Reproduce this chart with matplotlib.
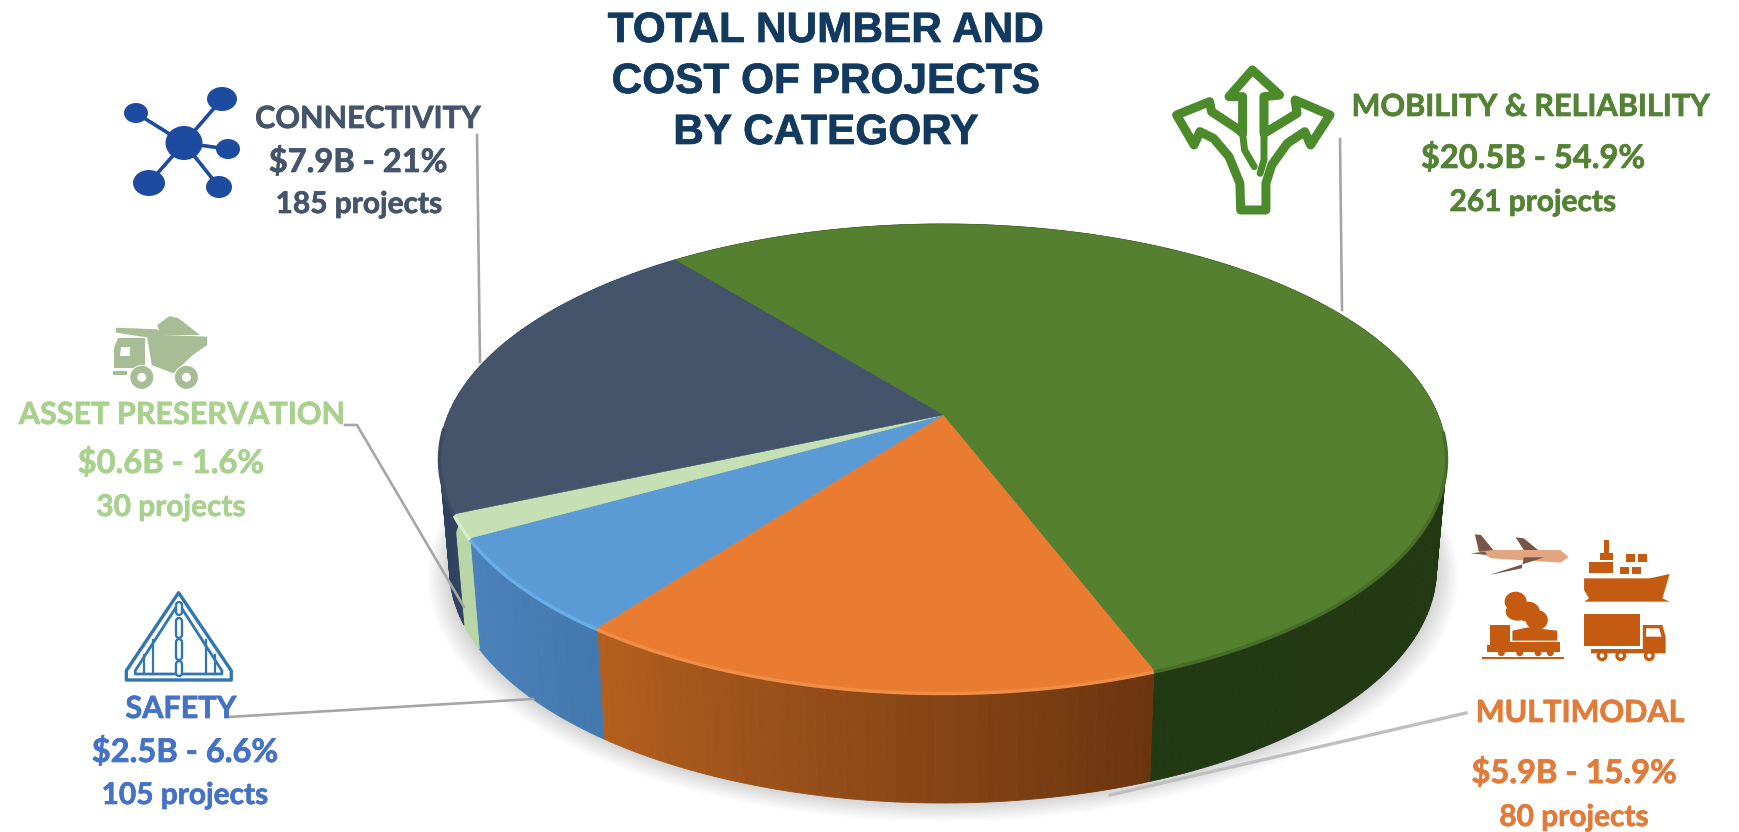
import matplotlib
matplotlib.use("Agg")
import matplotlib.pyplot as plt
import matplotlib.patheffects as pe
import numpy as np
from matplotlib.patches import Ellipse, Circle, Polygon

# chart data, clockwise from the top of the green slice
categories = ["MOBILITY & RELIABILITY", "MULTIMODAL", "SAFETY", "ASSET PRESERVATION", "CONNECTIVITY"]
cost_billion = [20.5, 5.9, 2.5, 0.6, 7.9]
share_pct = [54.9, 15.9, 6.6, 1.6, 21]
project_counts = [261, 80, 105, 30, 185]
title_lines = ["TOTAL NUMBER AND", "COST OF PROJECTS", "BY CATEGORY"]

# slice look
top_colors = ["#54802F", "#E97C30", "#5B9BD5", "#C5E0B4", "#44546A"]
side_left = ["#223A14", "#B5601F", "#4C82BB", "#B9D6A6", "#2F4260"]
side_right = ["#20340F", "#6B3510", "#4479AE", "#B9D6A6", "#2F4260"]
rim_colors = ["#476E28", "#F08E48", "#69ADE8", "#D5ECC6", "#3C4B60"]
text_colors = ["#548235", "#E07B39", "#4472C4", "#A9D18E", "#44546A"]

# label centres in pixels: name, value and project lines
label_x = [(1531, 1533, 1533), (1580, 1574, 1574), (181, 185, 185), (182, 171, 171), (368, 358, 359)]
label_y = [(107, 158, 202), (713, 773, 817), (709, 752, 795), (415, 463, 507), (119, 162, 204)]

# the pie, in pixels
CX, CY, RX, RY = 943, 458, 503.5, 234
APEX_UP = 43
DEPTH = 111
BASE_SCALE = 0.98
START_DEG = 128.3
K = APEX_UP / RY
A = RX * np.sqrt(1 - K ** 2)


def project(theta, drop=0.0, scale=1.0):
    """Perspective view of a point on the rim of the pie"""
    u = np.cos(theta)
    v = np.sin(theta)
    w = 1 + K * v
    return CX + scale * A * u / w, CY - (RY * v + APEX_UP) / w + drop


def mix(c1, c2, t):
    a = np.array(matplotlib.colors.to_rgb(c1))
    b = np.array(matplotlib.colors.to_rgb(c2))
    return tuple(a + (b - a) * t)


def draw_shadow(ax):
    theta = np.linspace(0, 2 * np.pi, 300)
    x, y = project(theta, DEPTH, BASE_SCALE)
    for i in range(14, 0, -1):
        grow = 1 + i * 0.0032
        ax.fill(CX + (x - CX) * grow, CY + DEPTH + (y - CY - DEPTH) * grow + i * 0.6,
                color="#000000", alpha=0.012, lw=0, zorder=1)


def draw_pie(ax):
    edges = np.radians(START_DEG - np.cumsum([0] + share_pct) * 3.6)
    # sides first, the top face then hides the back half
    for i in range(len(share_pct)):
        steps = max(int(abs(edges[i + 1] - edges[i]) * 60), 2)
        theta = np.linspace(edges[i], edges[i + 1], steps + 1)
        for s in range(steps):
            t = np.linspace(theta[s], theta[s + 1], 4)
            x, y = project(t)
            xb, yb = project(t, DEPTH, BASE_SCALE)
            ax.fill(np.r_[x, xb[::-1]], np.r_[y, yb[::-1]],
                    color=mix(side_left[i], side_right[i], 1 - s / steps),
                    lw=0.6, zorder=2)
    for i in range(len(share_pct)):
        t = np.linspace(edges[i], edges[i + 1], 200)
        x, y = project(t)
        ax.fill(np.r_[CX, x], np.r_[CY - APEX_UP, y], color=top_colors[i], lw=0.4, zorder=3)
        # the lit bevel only shows on the front of the rim
        front = np.sin(t) < -0.05
        ax.plot(x[front], y[front] + 1.5, color=rim_colors[i], lw=2.5, zorder=4, solid_capstyle="butt")


def draw_text(ax):
    for i, name in enumerate(categories):
        value = f"${cost_billion[i]:g}B - {share_pct[i]:g}%"
        projects = f"{project_counts[i]} projects"
        lines = [name, value, projects]
        sizes = [22, 23.5, 21.5]
        for j in range(3):
            ax.text(label_x[i][j], label_y[i][j], lines[j], color=text_colors[i],
                    fontsize=sizes[j], fontweight="bold", family="Lato",
                    ha="center", va="center", zorder=6,
                    path_effects=[pe.withStroke(linewidth=0.5, foreground=text_colors[i])])
    for y, line in zip([31, 82, 133], title_lines):
        ax.text(826, y, line, color="#123A5E", fontsize=30.5, fontweight="bold",
                family="Liberation Sans", ha="center", va="center", zorder=6,
                path_effects=[pe.withStroke(linewidth=0.5, foreground="#123A5E")])


def draw_leaders(ax):
    gray = "#A6A6A6"
    ax.plot([477, 480], [135, 362], color=gray, lw=1.9, zorder=5)
    ax.plot([345, 357, 464], [425, 425, 607], color=gray, lw=1.9, zorder=5)
    ax.plot([228, 533], [717, 699], color=gray, lw=1.9, zorder=5)
    ax.plot([1340, 1342], [139, 310], color=gray, lw=1.9, zorder=5)
    ax.plot([1466, 1110], [713, 795], color="#BFBFBF", lw=2.4, zorder=5)


def icon_connectivity(ax):
    blue = "#1C4BA0"
    hub = (184, 143)
    nodes = [(222, 99, 15, 12), (136, 113, 12, 10), (228, 149, 12, 10), (149, 183, 16, 13), (219, 187, 13, 11)]
    for x, y, w, h in nodes:
        ax.plot([hub[0], x], [hub[1], y], color=blue, lw=2.6, zorder=5)
        ax.add_patch(Ellipse((x, y), 2 * w, 2 * h, color=blue, lw=0, zorder=5))
    ax.add_patch(Ellipse(hub, 37, 34, color=blue, lw=0, zorder=5))


def icon_truck(ax):
    col = "#A8BD95"
    z = lambda pts: [(x / 2.8, y / 3 + 60) for x, y in pts]
    ax.add_patch(Polygon(z([(440, 795), (475, 768), (500, 775), (560, 825), (450, 825)]), color=col, lw=0, zorder=5))
    ax.add_patch(Polygon(z([(325, 803), (440, 808), (460, 825), (580, 830), (580, 855), (540, 885), (485, 940), (425, 915),
                            (412, 832), (325, 818)]), color=col, lw=0, zorder=5))
    ax.add_patch(Polygon(z([(330, 835), (405, 835), (405, 925), (318, 925), (318, 865)]), color=col, lw=0, zorder=5))
    ax.add_patch(Polygon(z([(338, 860), (365, 860), (365, 888), (335, 888)]), color="white", lw=0, zorder=5))
    ax.add_patch(Polygon(z([(315, 932), (355, 932), (355, 946), (315, 946)]), color=col, lw=0, zorder=5))
    for x in [397, 522]:
        cx, cy = z([(x, 952)])[0]
        ax.add_patch(Circle((cx, cy), 12.5, color="white", lw=0, zorder=5))
        ax.add_patch(Circle((cx, cy), 11.5, color=col, lw=0, zorder=5))
        ax.add_patch(Circle((cx, cy), 4.5, color="white", lw=0, zorder=5))


def icon_safety(ax):
    col = "#3076B0"
    z = lambda pts: [(x / 2.24, y / 3 + 540) for x, y in pts]
    ax.add_patch(Polygon(z([(400, 158), (518, 392), (518, 420), (283, 420), (283, 392)]), closed=True, fill=False,
                         ec=col, lw=2.4, joinstyle="round", zorder=5))
    ax.add_patch(Polygon(z([(400, 190), (497, 392), (497, 402), (303, 402), (303, 392)]), closed=True, fill=False,
                         ec=col, lw=2, joinstyle="round", zorder=5))
    for y0, y1 in [(195, 215), (242, 285), (305, 350), (372, 398)]:
        p = z([(400, y0), (400, y1)])
        ax.plot([p[0][0], p[1][0]], [p[0][1], p[1][1]], color=col, lw=6, zorder=5, solid_capstyle="round")
        ax.plot([p[0][0], p[1][0]], [p[0][1], p[1][1]], color="white", lw=2.6, zorder=5, solid_capstyle="round")
    for pts in [[(342, 300), (342, 398)], [(322, 345), (322, 398)], [(462, 300), (462, 398)], [(482, 345), (482, 398)]]:
        p = z(pts)
        ax.plot([p[0][0], p[1][0]], [p[0][1], p[1][1]], color=col, lw=1.6, zorder=5)


def icon_mobility(ax):
    col = "#4B8B2B"
    z = lambda pts: [(x / 2.575 + 1130, y / 3 + 50) for x, y in pts]
    outline = [(285, 480), (283, 400), (255, 320), (215, 265), (180, 245), (165, 285), (120, 195), (205, 155), (210, 185),
               (275, 235), (290, 250), (290, 140), (255, 140), (315, 60), (385, 135), (345, 140), (345, 250), (360, 240),
               (430, 190), (425, 150), (515, 195), (465, 285), (450, 245), (405, 280), (365, 345), (350, 400), (350, 480)]
    ax.add_patch(Polygon(z(outline), closed=True, fc="white", ec=col, lw=6.5, joinstyle="round", zorder=5))
    for pts in [[(290, 250), (295, 300), (320, 350)], [(345, 250), (345, 330), (335, 370)]]:
        p = np.array(z(pts))
        ax.plot(p[:, 0], p[:, 1], color=col, lw=5, zorder=5, solid_capstyle="round")


def icon_multimodal(ax):
    col = "#C55A11"
    z = lambda pts: [(x / 2.454 + 1100, y / 3 + 500) for x, y in pts]
    fill = lambda pts, c=col: ax.add_patch(Polygon(z(pts), color=c, lw=0, zorder=5))
    # plane
    fill([(925, 150), (1130, 150), (1150, 172), (1130, 188), (960, 175)], "#E2A582")
    fill([(920, 103), (935, 105), (965, 150), (930, 155)], "#7A5545")
    fill([(1020, 112), (1040, 115), (1075, 150), (1040, 150)], "#7A5545")
    fill([(955, 225), (1090, 172), (1040, 172), (1035, 205)], "#7A5545")
    fill([(910, 160), (945, 155), (950, 165)], "#7A5545")
    # ship
    fill([(1238, 120), (1250, 120), (1250, 160), (1238, 160)])
    fill([(1228, 160), (1258, 160), (1258, 180), (1228, 180)])
    fill([(1200, 185), (1260, 185), (1260, 220), (1200, 220)])
    for x, y in [(1292, 163), (1320, 163), (1275, 200), (1305, 200)]:
        fill([(x, y), (x + 22, y), (x + 22, y + 22), (x, y + 22)])
    fill([(1188, 235), (1350, 235), (1398, 222), (1380, 295), (1398, 305), (1188, 305), (1200, 295), (1188, 270)])
    # train
    fill([(958, 375), (1005, 375), (1005, 435), (958, 435)])
    fill([(1012, 392), (1050, 382), (1122, 392), (1122, 422), (1012, 422)])
    fill([(1005, 425), (1128, 425), (1128, 455), (950, 455), (950, 435), (1005, 435)])
    fill([(938, 470), (1138, 470), (1138, 478), (938, 478)])
    for x, y, w, h in [(1020, 305, 11, 10), (1025, 335, 12, 9), (1050, 335, 12, 10), (1072, 360, 11, 10)]:
        cx, cy = z([(x, y)])[0]
        ax.add_patch(Ellipse((cx, cy), 2 * w, 2 * h, color=col, lw=0, zorder=5))
    for x in [985, 1030, 1075, 1105]:
        cx, cy = z([(x, 458)])[0]
        ax.add_patch(Circle((cx, cy), 3.5, color=col, lw=0, zorder=5))
    # truck
    fill([(1188, 343), (1325, 343), (1325, 437), (1188, 437)])
    fill([(1332, 375), (1380, 375), (1388, 410), (1388, 460), (1205, 460), (1205, 447), (1332, 447)])
    fill([(1340, 385), (1372, 385), (1378, 410), (1340, 410)], "white")
    for x in [1232, 1278, 1348]:
        cx, cy = z([(x, 467)])[0]
        ax.add_patch(Circle((cx, cy), 5.5, color=col, lw=0, zorder=5))
        ax.add_patch(Circle((cx, cy), 2.2, color="white", lw=0, zorder=5))


def main():
    fig = plt.figure(figsize=(17.39, 8.32), dpi=100)
    ax = fig.add_axes([0, 0, 1, 1])
    ax.set_xlim(0, 1739)
    ax.set_ylim(832, 0)
    ax.axis("off")

    draw_shadow(ax)
    draw_pie(ax)
    draw_leaders(ax)
    icon_connectivity(ax)
    icon_truck(ax)
    icon_safety(ax)
    icon_mobility(ax)
    icon_multimodal(ax)
    draw_text(ax)

    fig.savefig("out.png", dpi=100)


if __name__ == "__main__":
    main()
